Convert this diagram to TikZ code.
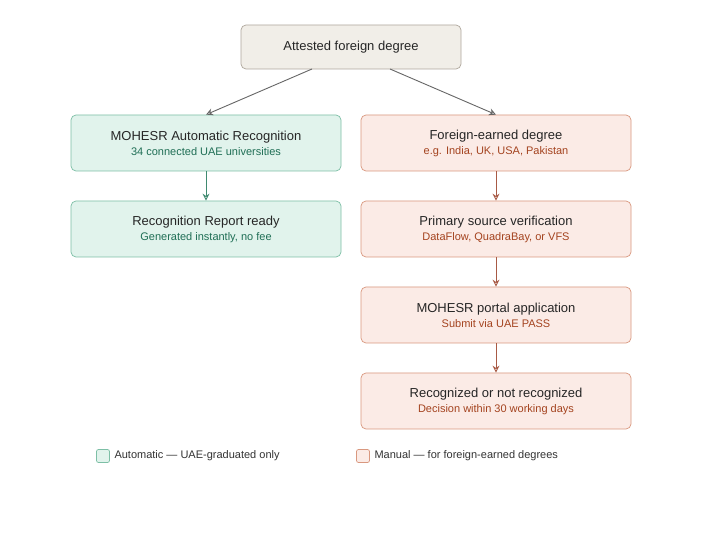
\documentclass[tikz,border=0pt]{standalone}
\usepackage{fontspec}
\setmainfont{Liberation Sans}
\usetikzlibrary{arrows.meta}
\definecolor{gfill}{HTML}{E1F3EC}
\definecolor{gdraw}{HTML}{7DBFA6}
\definecolor{gtext}{HTML}{1F6E55}
\definecolor{garrow}{HTML}{3F8A70}
\definecolor{rfill}{HTML}{FBEBE6}
\definecolor{rdraw}{HTML}{D9987F}
\definecolor{rtext}{HTML}{A4431F}
\definecolor{rarrow}{HTML}{A85A45}
\definecolor{tfill}{HTML}{F1EEE8}
\definecolor{tdraw}{HTML}{AFA79C}
\tikzset{x=1pt,y=-1pt,
 box/.style={rounded corners=5pt,minimum width=270pt,minimum height=56pt,align=center,line width=0.7pt,font=\fontsize{13}{16}\selectfont,text=black!85},
 gbox/.style={box,fill=gfill,draw=gdraw},
 rbox/.style={box,fill=rfill,draw=rdraw},
 tbox/.style={box,fill=tfill,draw=tdraw,minimum width=220pt,minimum height=44pt},
 gsub/.style={font=\fontsize{11}{14}\selectfont,text=gtext},
 rsub/.style={font=\fontsize{11}{14}\selectfont,text=rtext},
 arr/.style={-{Stealth[length=7pt,width=7pt,open]},line width=0.9pt},
 ga/.style={arr,draw=garrow},
 ra/.style={arr,draw=rarrow},
 ta/.style={arr,draw=black!60},
 leg/.style={font=\fontsize{11}{14}\selectfont,text=black!80,anchor=west}}
\begin{document}
\begin{tikzpicture}
\fill[white] (0,0) rectangle (716,540);
\node[tbox] (top) at (351,47) {Attested foreign degree};
\node[gbox] (g1) at (206,143) {MOHESR Automatic Recognition\\[-1pt]{\fontsize{11}{14}\selectfont\color{gtext}34 connected UAE universities}};
\node[gbox] (g2) at (206,229) {Recognition Report ready\\[-1pt]{\fontsize{11}{14}\selectfont\color{gtext}Generated instantly, no fee}};
\node[rbox] (r1) at (496,143) {Foreign-earned degree\\[-1pt]{\fontsize{11}{14}\selectfont\color{rtext}e.g. India, UK, USA, Pakistan}};
\node[rbox] (r2) at (496,229) {Primary source verification\\[-1pt]{\fontsize{11}{14}\selectfont\color{rtext}DataFlow, QuadraBay, or VFS}};
\node[rbox] (r3) at (496,315) {MOHESR portal application\\[-1pt]{\fontsize{11}{14}\selectfont\color{rtext}Submit via UAE PASS}};
\node[rbox] (r4) at (496,401) {Recognized or not recognized\\[-1pt]{\fontsize{11}{14}\selectfont\color{rtext}Decision within 30 working days}};
\draw[ta] (312,69) -- (g1.north);
\draw[ta] (390,69) -- (r1.north);
\draw[ga] (g1) -- (g2);
\draw[ra] (r1) -- (r2);
\draw[ra] (r2) -- (r3);
\draw[ra] (r3) -- (r4);
\node[draw=gdraw,fill=gfill,rounded corners=2pt,minimum size=13pt,inner sep=0pt,line width=0.7pt] (lg) at (103,456) {};
\node[leg] (lgt) at (111,456) {Automatic — UAE-graduated only};
\node[draw=rdraw,fill=rfill,rounded corners=2pt,minimum size=13pt,inner sep=0pt,line width=0.7pt] (lr) at (363,456) {};
\node[leg] (lrt) at (371,456) {Manual — for foreign-earned degrees};
\end{tikzpicture}
\end{document}
